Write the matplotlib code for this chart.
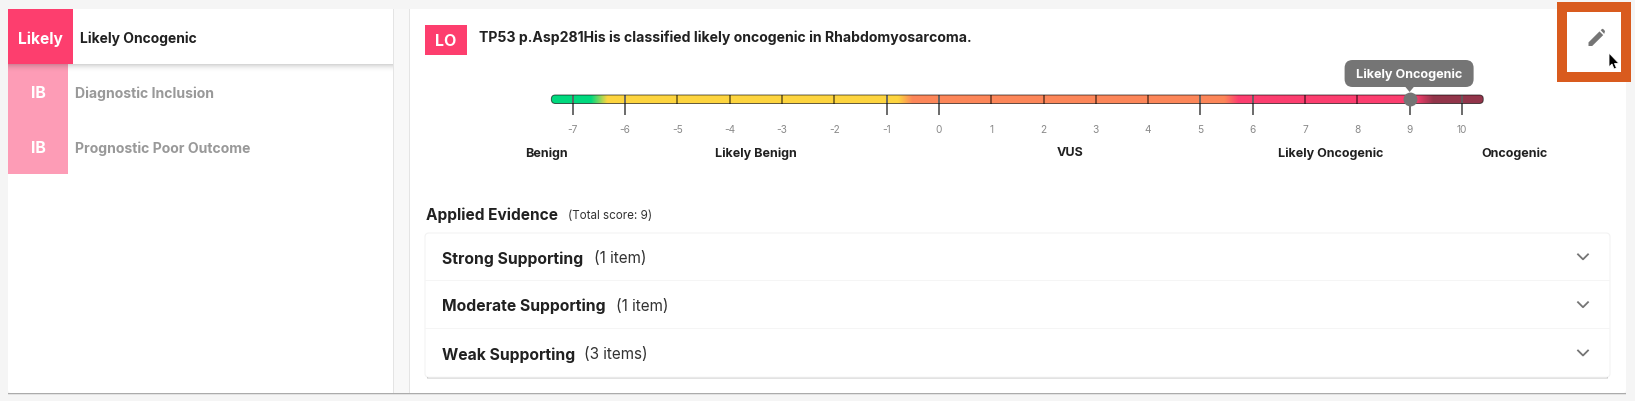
import numpy as np
import matplotlib
matplotlib.use("Agg")
import matplotlib.pyplot as plt
from matplotlib.colors import LinearSegmentedColormap
from matplotlib.patches import FancyBboxPatch, Polygon, Rectangle

plt.rcParams['font.family'] = ['Inter', 'DejaVu Sans']

# score scale
score_ticks = list(range(-7, 11))
long_ticks = [-7, -6, -1, 0, 5, 6, 9, 10]
current_score = 9
current_label = "Likely Oncogenic"
band_names = ["Benign", "Likely Benign", "VUS", "Likely Oncogenic", "Oncogenic"]
band_centers = [-7.5, -3.5, 2.5, 7.5, 11.0]
gradient_stops = [-7.41, -6.65, -6.34, -0.77, -0.5, 5.47, 5.74, 9.12, 9.47, 10.41]
gradient_colors = ["#00d97e", "#00d97e", "#fdd43f", "#fdd43f", "#fc8659",
                   "#fc8659", "#fc3e6f", "#fc3e6f", "#92354a", "#92354a"]

# left list
list_badges = ["Likely", "IB", "IB"]
list_names = ["Likely Oncogenic", "Diagnostic Inclusion", "Prognostic Poor Outcome"]

# accordion
evidence_names = ["Strong Supporting", "Moderate Supporting", "Weak Supporting"]
evidence_counts = ["(1 item)", "(1 item)", "(3 items)"]
count_x = [594, 615.7, 583.7]

W, H = 1635, 402
PINK = "#fd3e6e"
fig = plt.figure(figsize=(W / 100, H / 100), dpi=100, facecolor="#f5f5f5")
ax = fig.add_axes([0, 0, 1, 1])
ax.set_xlim(0, W)
ax.set_ylim(H, 0)
ax.axis("off")


def rect(x0, y0, x1, y1, color, z=1, **kw):
    ax.add_patch(Rectangle((x0, y0), x1 - x0, y1 - y0, facecolor=color, edgecolor="none", zorder=z, **kw))


def shadow(x0, x1, y, height, strength, z=1):
    for i in range(height):
        a = strength * (1 - i / height) ** 2
        rect(x0, y + i, x1, y + i + 1, "black", z=z, alpha=a)


# cards
shadow(8, 1626, 394, 2, 0.3)
ax.add_patch(FancyBboxPatch((8, 10), 1618, 384, boxstyle="round,pad=0,rounding_size=3",
                            facecolor="white", edgecolor="none", zorder=2))
rect(393.5, 10, 409, 394, "#f8f8f8", z=3)
rect(393, 10, 394, 394, "#e4e4e4", z=3)
rect(408.5, 10, 409.5, 394, "#e4e4e4", z=3)

# left list
shadow(8, 393, 65, 8, 0.16, z=3)
rect(8, 10, 73, 65, PINK, z=4)
rect(8, 65, 68, 175, "#fd9cb6", z=2.5)
ax.text(40.5, 39, list_badges[0], color="white", fontsize=11.2, fontweight="bold", ha="center", va="center", zorder=5)
ax.text(38, 94, list_badges[1], color="white", fontsize=11.5, fontweight="bold", ha="center", va="center", zorder=5)
ax.text(38, 149, list_badges[2], color="white", fontsize=11.5, fontweight="bold", ha="center", va="center", zorder=5)
ax.text(80, 39, list_names[0], color="#212121", fontsize=10, fontweight="bold", va="center", zorder=5)
ax.text(74.7, 94, list_names[1], color="#999999", fontsize=10.1, fontweight="bold", va="center", zorder=5)
ax.text(74.7, 149, list_names[2], color="#999999", fontsize=10.1, fontweight="bold", va="center", zorder=5)

# heading
rect(425, 26, 467, 56, PINK, z=4)
ax.text(446, 42, "LO", color="white", fontsize=11.5, fontweight="bold", ha="center", va="center", zorder=5)
ax.text(479, 37.5, "TP53 p.Asp281His is classified likely oncogenic in Rhabdomyosarcoma.",
        color="#212121", fontsize=10.13, fontweight="bold", va="center", zorder=5)

# score scale: x is score, y stays in pixels
px_per_score = 52.3
zero_px = 938.9
sc = fig.add_axes([0, 0, 1, 1])
sc.patch.set_alpha(0)
sc.axis("off")
sc.set_zorder(2)
lims = ((0 - zero_px) / px_per_score, (W - zero_px) / px_per_score)

lo, hi = gradient_stops[0], gradient_stops[-1]
cmap = LinearSegmentedColormap.from_list(
    "score", [((s - lo) / (hi - lo), c) for s, c in zip(gradient_stops, gradient_colors)], N=1024)
bar_top, bar_bottom = 96, 104.5
img = sc.imshow(np.linspace(0, 1, 1024).reshape(1, -1), cmap=cmap, extent=(lo, hi, bar_bottom, bar_top),
                aspect="auto", interpolation="bilinear", zorder=1)
outline = FancyBboxPatch((lo, bar_top), hi - lo, bar_bottom - bar_top,
                         boxstyle="round,pad=0,rounding_size=%f" % (4 / px_per_score),
                         mutation_aspect=px_per_score, facecolor="none",
                         edgecolor="#000000", alpha=0.6, linewidth=0.72, zorder=3)
sc.add_patch(outline)
img.set_clip_path(outline)
sc.set_xlim(*lims)
sc.set_ylim(H, 0)

short_ticks = [t for t in score_ticks if t not in long_ticks]
sc.vlines(short_ticks, bar_top, bar_bottom, color="#000000", alpha=0.6, linewidth=1.1, zorder=2)
sc.vlines(long_ticks, bar_top, 116, color="#5f5f5f", linewidth=1.3, zorder=2)
for t in score_ticks:
    sc.text(t, 130, str(t), color="#8a8a8a", fontsize=7.3, ha="center", va="center")
for name, c in zip(band_names, band_centers):
    sc.text(c, 153.5, name, color="#212121", fontsize=9, fontweight="bold", ha="center", va="center")

# current score
sc.plot([current_score], [100], "o", color="#757575", markersize=10, markeredgewidth=0, zorder=5)
tip = FancyBboxPatch((current_score - 65 / px_per_score, 61), 129 / px_per_score, 27,
                     boxstyle="round,pad=0,rounding_size=%f" % (8 / px_per_score),
                     mutation_aspect=px_per_score, facecolor="#757575", edgecolor="none", zorder=6)
sc.add_patch(tip)
sc.add_patch(Polygon([(current_score - 5 / px_per_score, 87), (current_score + 5 / px_per_score, 87),
                      (current_score, 93)], facecolor="#757575", edgecolor="none", zorder=6))
sc.text(current_score, 74.5, current_label, color="white", fontsize=9.1, fontweight="bold",
        ha="center", va="center", zorder=7)

# edit button
rect(1557, 3, 1631, 82.7, "#d95b1e", z=6)
rect(1567, 12.7, 1621, 73, "white", z=7)
ax.set_zorder(1)
pen = [(1588.5, 47), (1588.5, 43.4), (1599.5, 32.4), (1603.2, 36.1), (1592.2, 47)]
ax.add_patch(Polygon(pen, facecolor="#757575", edgecolor="none", zorder=8))
ax.add_patch(Polygon([(1600.7, 31.2), (1602, 30), (1603, 29.8), (1605, 32), (1604.8, 33), (1604.2, 34.9)],
                     facecolor="#757575", edgecolor="none", zorder=8))

# cursor
arrow = [(1609, 54), (1609, 68), (1612, 65), (1614, 70), (1616.5, 69), (1614.5, 64.5), (1619, 64.5)]
ax.add_patch(Polygon(arrow, facecolor="black", edgecolor="white", linewidth=0.6, zorder=9))

# applied evidence
ax.text(425.7, 215, "Applied Evidence", color="#212121", fontsize=11.1, fontweight="bold", va="center", zorder=5)
ax.text(567.7, 216.5, "(Total score: 9)", color="#333333", fontsize=8.4, va="center", zorder=5)

rows_top = [234, 281.7, 329.7]
rows_bottom = [281.7, 329.7, 378.3]
shadow(427, 1608, 378, 2, 0.45, z=3)
ax.add_patch(FancyBboxPatch((425, 234), 1185, 144.3, boxstyle="round,pad=0,rounding_size=4",
                            facecolor="white", edgecolor="#f3f3f3", linewidth=0.8, zorder=4))
for top, bottom, name, count, cx in zip(rows_top, rows_bottom, evidence_names, evidence_counts, count_x):
    mid = (top + bottom) / 2
    if top > 234:
        rect(425, top - 0.5, 1610, top + 0.5, "#f5f5f5", z=4.5)
    ax.text(441.7, mid + 1, name, color="#212121", fontsize=11.3, fontweight="bold", va="center", zorder=5)
    ax.text(cx, mid + 1, count, color="#333333", fontsize=11, va="center", zorder=5)
    ax.plot([1578, 1583, 1588], [mid - 2.5, mid + 2.5, mid - 2.5], color="#757575", linewidth=1.3, zorder=5)

fig.savefig("out.png", dpi=100, facecolor=fig.get_facecolor())
